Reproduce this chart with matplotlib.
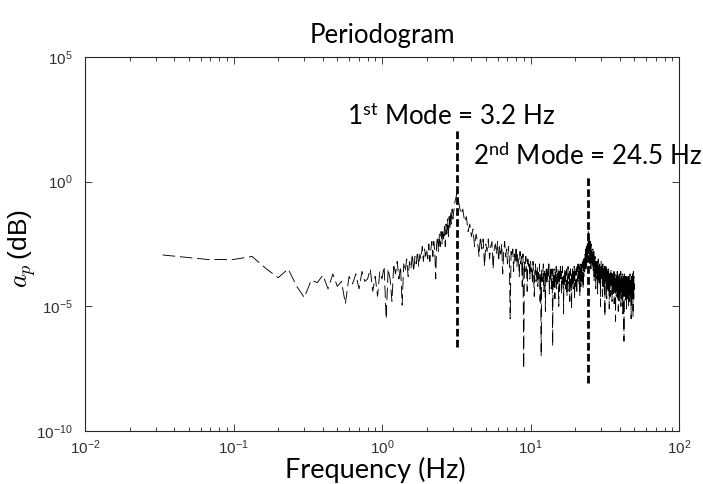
import numpy as np
import matplotlib
matplotlib.use('Agg')
import matplotlib.pyplot as plt
from matplotlib.ticker import LogLocator, NullLocator

# --- DATA (log10 of the periodogram) ---
FREQ_LO = np.arange(1, 91) / 30.0      # 1/30 Hz bins up to 3 Hz
LOG_PSD_LO = [
    -2.94, -3.12, -3.12, -3.00, -3.50, -3.85, -3.50, -4.20, -4.65, -3.95,
    -4.05, -3.75, -4.30, -3.70, -4.20, -4.00, -4.90, -3.80, -4.10, -3.70,
    -4.30, -3.60, -4.00, -3.90, -3.50, -4.40, -3.80, -4.60, -3.60, -3.90,
    -3.40, -5.50, -3.50, -3.90, -4.80, -3.30, -3.70, -3.20, -3.90, -3.40,
    -4.95, -3.30, -3.60, -3.10, -3.80, -3.20, -3.50, -2.90, -3.60, -3.00,
    -3.30, -2.80, -3.40, -2.90, -3.10, -2.60, -3.20, -2.70, -3.00, -2.70,
    -3.10, -2.50, -3.20, -2.70, -2.40, -3.00, -2.40, -2.80, -3.90, -2.50,
    -2.20, -2.80, -2.10, -2.60, -2.00, -2.50, -1.90, -2.30, -1.80, -2.60,
    -1.70, -2.10, -1.50, -2.20, -1.40, -1.90, -1.20, -1.70, -1.10, -1.50,
]
FREQ_HI = np.arange(31, 501) / 10.0    # 0.1 Hz bins from 3.1 to 50 Hz
LOG_PSD_HI = [
    -0.8, -0.45, -0.9, -1.3, -1.1, -1.6, -1.4, -2.0, -1.7, -2.2,   # 3
    -1.9, -2.6, -2.1, -2.4, -3.0, -2.2, -2.7, -2.3, -3.4, -2.5,    # 4
    -2.8, -2.3, -3.1, -2.6, -2.4, -3.5, -2.7, -2.5, -2.9, -2.4,    # 5
    -3.2, -2.6, -2.9, -2.5, -3.7, -2.8, -2.4, -3.0, -2.7, -3.3,    # 6
    -2.6, -3.1, -5.5, -2.8, -3.0, -2.7, -3.6, -2.9, -3.2, -2.6,    # 7
    -3.4, -2.9, -3.1, -3.8, -2.8, -3.3, -3.0, -4.2, -2.9, -7.5,    # 8
    -3.2, -3.6, -3.0, -3.4, -4.4, -3.1, -3.5, -3.3, -3.9, -3.2,    # 9
    -3.6, -3.4, -4.1, -3.2, -3.8, -4.6, -3.5, -3.3, -4.0, -3.7,    # 10
    -3.4, -4.2, -3.6, -3.9, -3.3, -4.8, -3.7, -7.0, -3.5, -4.0,    # 11
    -3.8, -3.3, -4.4, -3.6, -3.9, -5.2, -3.5, -4.1, -3.4, -3.8,    # 12
    -4.0, -3.6, -3.2, -4.5, -3.7, -3.9, -3.4, -4.3, -3.8, -3.5,    # 13
    -6.6, -3.7, -4.2, -3.5, -3.9, -4.7, -3.6, -4.0, -3.4, -4.3,    # 14
    -3.7, -4.1, -3.5, -3.9, -5.0, -3.6, -4.4, -3.8, -3.3, -4.0,    # 15
    -3.6, -4.5, -3.9, -3.4, -4.1, -3.7, -5.3, -3.8, -4.2, -3.5,    # 16
    -4.0, -3.6, -4.3, -3.9, -3.5, -4.6, -3.8, -4.1, -3.4, -3.9,    # 17
    -3.7, -4.4, -3.6, -4.8, -3.9, -3.5, -4.2, -3.8, -5.1, -3.6,    # 18
    -4.1, -3.5, -3.9, -4.3, -3.6, -4.0, -3.4, -4.7, -3.8, -3.6,    # 19
    -3.9, -4.2, -3.5, -3.8, -4.5, -3.4, -3.7, -4.0, -3.3, -3.8,    # 20
    -3.6, -4.1, -3.4, -3.7, -4.6, -3.3, -3.9, -3.5, -4.2, -3.4,    # 21
    -3.7, -3.3, -4.0, -3.5, -3.2, -4.3, -3.4, -3.1, -3.8, -3.3,    # 22
    -3.0, -3.6, -2.9, -3.3, -2.7, -3.5, -3.0, -2.6, -3.4, -2.8,    # 23
    -2.5, -3.1, -2.4, -2.9, -1.95, -2.3, -2.7, -2.2, -3.2, -2.5,   # 24
    -2.6, -3.3, -2.4, -2.9, -3.5, -2.7, -2.5, -3.1, -2.8, -3.4,    # 25
    -2.9, -3.2, -2.7, -3.6, -3.0, -3.4, -2.8, -4.0, -3.1, -3.3,    # 26
    -3.5, -3.0, -3.8, -3.2, -4.3, -3.4, -3.1, -3.7, -3.3, -3.9,    # 27
    -3.2, -3.6, -4.5, -3.3, -3.8, -3.1, -3.5, -4.1, -3.4, -3.7,    # 28
    -3.9, -3.3, -3.6, -4.2, -3.4, -5.0, -3.5, -3.8, -3.2, -3.6,    # 29
    -3.7, -4.0, -3.4, -3.8, -4.6, -3.5, -3.3, -3.9, -3.6, -4.2,    # 30
    -3.5, -3.9, -3.6, -4.4, -3.4, -3.8, -5.4, -3.7, -3.5, -4.0,    # 31
    -3.8, -3.4, -4.1, -3.6, -3.9, -4.7, -3.5, -3.7, -4.3, -3.6,    # 32
    -4.0, -3.6, -3.9, -4.4, -3.7, -3.5, -4.2, -3.8, -5.1, -3.9,    # 33
    -3.7, -4.3, -3.8, -4.0, -3.6, -4.6, -3.9, -3.5, -4.1, -3.8,    # 34
    -4.2, -3.7, -4.0, -4.8, -3.9, -3.6, -4.4, -3.8, -4.1, -3.7,    # 35
    -4.0, -4.5, -3.8, -4.2, -3.6, -4.9, -4.1, -3.9, -4.3, -3.7,    # 36
    -4.4, -3.9, -4.1, -5.6, -3.8, -4.2, -4.0, -4.6, -3.7, -4.1,    # 37
    -3.9, -4.3, -4.0, -3.6, -4.7, -4.1, -3.8, -4.4, -4.0, -5.2,    # 38
    -4.1, -3.8, -4.5, -4.0, -4.2, -3.7, -4.8, -4.1, -3.9, -4.3,    # 39
    -4.0, -4.6, -3.9, -4.2, -3.6, -5.0, -4.3, -4.0, -4.4, -3.8,    # 40
    -4.2, -3.9, -4.7, -4.1, -3.7, -4.4, -4.0, -5.3, -4.2, -3.9,    # 41
    -4.5, -4.0, -4.2, -3.8, -4.9, -6.4, -4.3, -3.7, -4.4, -4.0,    # 42
    -4.1, -4.6, -3.9, -4.3, -4.0, -4.8, -3.8, -4.2, -4.5, -3.9,    # 43
    -4.3, -4.0, -5.1, -4.2, -3.8, -4.5, -4.1, -3.9, -4.7, -4.2,    # 44
    -3.9, -4.4, -4.1, -4.6, -3.7, -4.3, -5.0, -4.0, -4.2, -3.8,    # 45
    -4.5, -4.1, -3.9, -4.4, -4.8, -4.0, -4.3, -3.7, -4.6, -4.2,    # 46
    -4.0, -4.7, -4.2, -3.9, -4.4, -5.5, -4.1, -4.3, -3.8, -4.5,    # 47
    -4.2, -3.9, -4.6, -4.1, -4.4, -3.7, -4.8, -4.2, -4.0, -5.4,    # 48
    -4.3, -4.0, -3.6, -4.5, -4.1, -4.7, -3.8, -4.3, -4.2, -4.4,    # 49
]
MODE_FREQS = [3.2, 24.5]
MODE_LOG_SPAN = [(-6.63, 2.07), (-8.08, 0.27)]
MODE_LABELS = [r"1$^{\mathrm{st}}$ Mode = 3.2 Hz",
               r"2$^{\mathrm{nd}}$ Mode = 24.5 Hz"]
MODE_LABEL_POS = [(2.92, 10**2.6), (24.3, 10**1.0)]

# --- STYLE ---
plt.rcParams['lines.scale_dashes'] = False
plt.rcParams['mathtext.fontset'] = 'custom'
plt.rcParams['mathtext.rm'] = 'Lato'
plt.rcParams['mathtext.it'] = 'Lato:italic'
TEXT_FONT = 'Lato'
TICK_FONT = 'Liberation Sans'
TICK_COLOR = '#404040'

freq = np.concatenate([FREQ_LO, FREQ_HI])
psd = 10.0 ** np.concatenate([LOG_PSD_LO, LOG_PSD_HI])

fig = plt.figure(figsize=(7.03, 4.84), dpi=100)
ax = fig.add_axes([85 / 703, 53 / 484, 594 / 703, 374 / 484])

ax.loglog(freq, psd, color='black', lw=0.65, linestyle=(0, (9, 3.5)))

for f, (lo, hi) in zip(MODE_FREQS, MODE_LOG_SPAN):
    ax.plot([f, f], [10**lo, 10**hi], color='black', lw=2.0,
            linestyle=(0, (5.5, 2.4)))

for lbl, (x, y) in zip(MODE_LABELS, MODE_LABEL_POS):
    ax.text(x, y, lbl, ha='center', va='center', fontsize=18.7,
            family=TEXT_FONT, clip_on=False)

ax.set_xlim(1e-2, 1e2)
ax.set_ylim(1e-10, 1e5)
ax.set_yticks([1e-10, 1e-5, 1e0, 1e5])
ax.yaxis.set_minor_locator(NullLocator())
ax.xaxis.set_major_locator(LogLocator(base=10, numticks=10))
ax.xaxis.set_minor_locator(LogLocator(base=10, subs=np.arange(2, 10), numticks=10))

ax.tick_params(which='both', direction='in', top=True, right=True,
               color=TICK_COLOR, labelcolor='#303030', labelsize=11)
ax.tick_params(which='major', length=5, width=0.7)
ax.tick_params(which='minor', length=3, width=0.7)
ax.tick_params(axis='y', pad=9)
ax.tick_params(axis='x', pad=5)
for lab in ax.get_xticklabels() + ax.get_yticklabels():
    lab.set_family(TICK_FONT)
for sp in ax.spines.values():
    sp.set_color('#262626')
    sp.set_linewidth(0.8)

ax.set_title('Periodogram', fontsize=18.5, family=TEXT_FONT, pad=10)
ax.set_xlabel('Frequency (Hz)', fontsize=19.5, family=TEXT_FONT)
ax.xaxis.set_label_coords(0.488, -0.068)
ax.set_ylabel(r'$a_p\,$(dB)', fontsize=19, family=TICK_FONT,
              math_fontfamily='cm')
ax.yaxis.set_label_coords(-0.079, 0.489)

fig.savefig('out.png', dpi=100, facecolor='white')
